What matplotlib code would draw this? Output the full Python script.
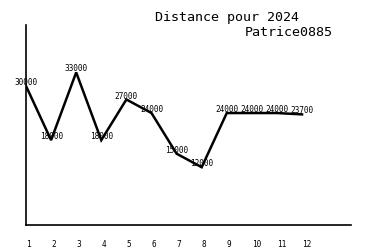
import matplotlib
matplotlib.use("Agg")
import matplotlib.pyplot as plt

months = [1, 2, 3, 4, 5, 6, 7, 8, 9, 10, 11, 12]
month_labels = ["1", "2", "3", "4", "5", "6", "7", "8", "9", "10", "11", "12"]
distances = [30000, 18000, 33000, 18000, 27000, 24000, 15000, 12000, 24000, 24000, 24000, 23700]
title_line1 = "Distance pour 2024"
title_line2 = "Patrice0885"

mono = "DejaVu Sans Mono"
fig = plt.figure(figsize=(3.75, 2.5), dpi=100)
ax = fig.add_axes([26/375, 0.1, (351-26)/375, 0.8])
ax.plot(months, distances, color="black", linewidth=1.8, solid_joinstyle="miter")
for m, d in zip(months, distances):
    ax.annotate(str(d), (m, d), xytext=(0, 2.5), textcoords="offset points",
                ha="center", va="center", fontsize=5.6, family=mono, color="black")
ax.set_xlim(1, 13.95)
ax.set_ylim(-800, 43500)
ax.spines["top"].set_visible(False)
ax.spines["right"].set_visible(False)
ax.spines["left"].set_linewidth(1.2)
ax.spines["bottom"].set_linewidth(1.2)
ax.set_yticks([])
ax.set_xticks(months)
ax.set_xticklabels(month_labels, fontsize=5.6, family=mono, ha="left")
ax.tick_params(axis="x", length=0, pad=11)
fig.text(155/375, 1 - 18/250, title_line1, fontsize=9.6, family=mono, ha="left", va="center")
fig.text(333/375, 1 - 33/250, title_line2, fontsize=9.6, family=mono, ha="right", va="center")
fig.savefig("out.png", dpi=100)
